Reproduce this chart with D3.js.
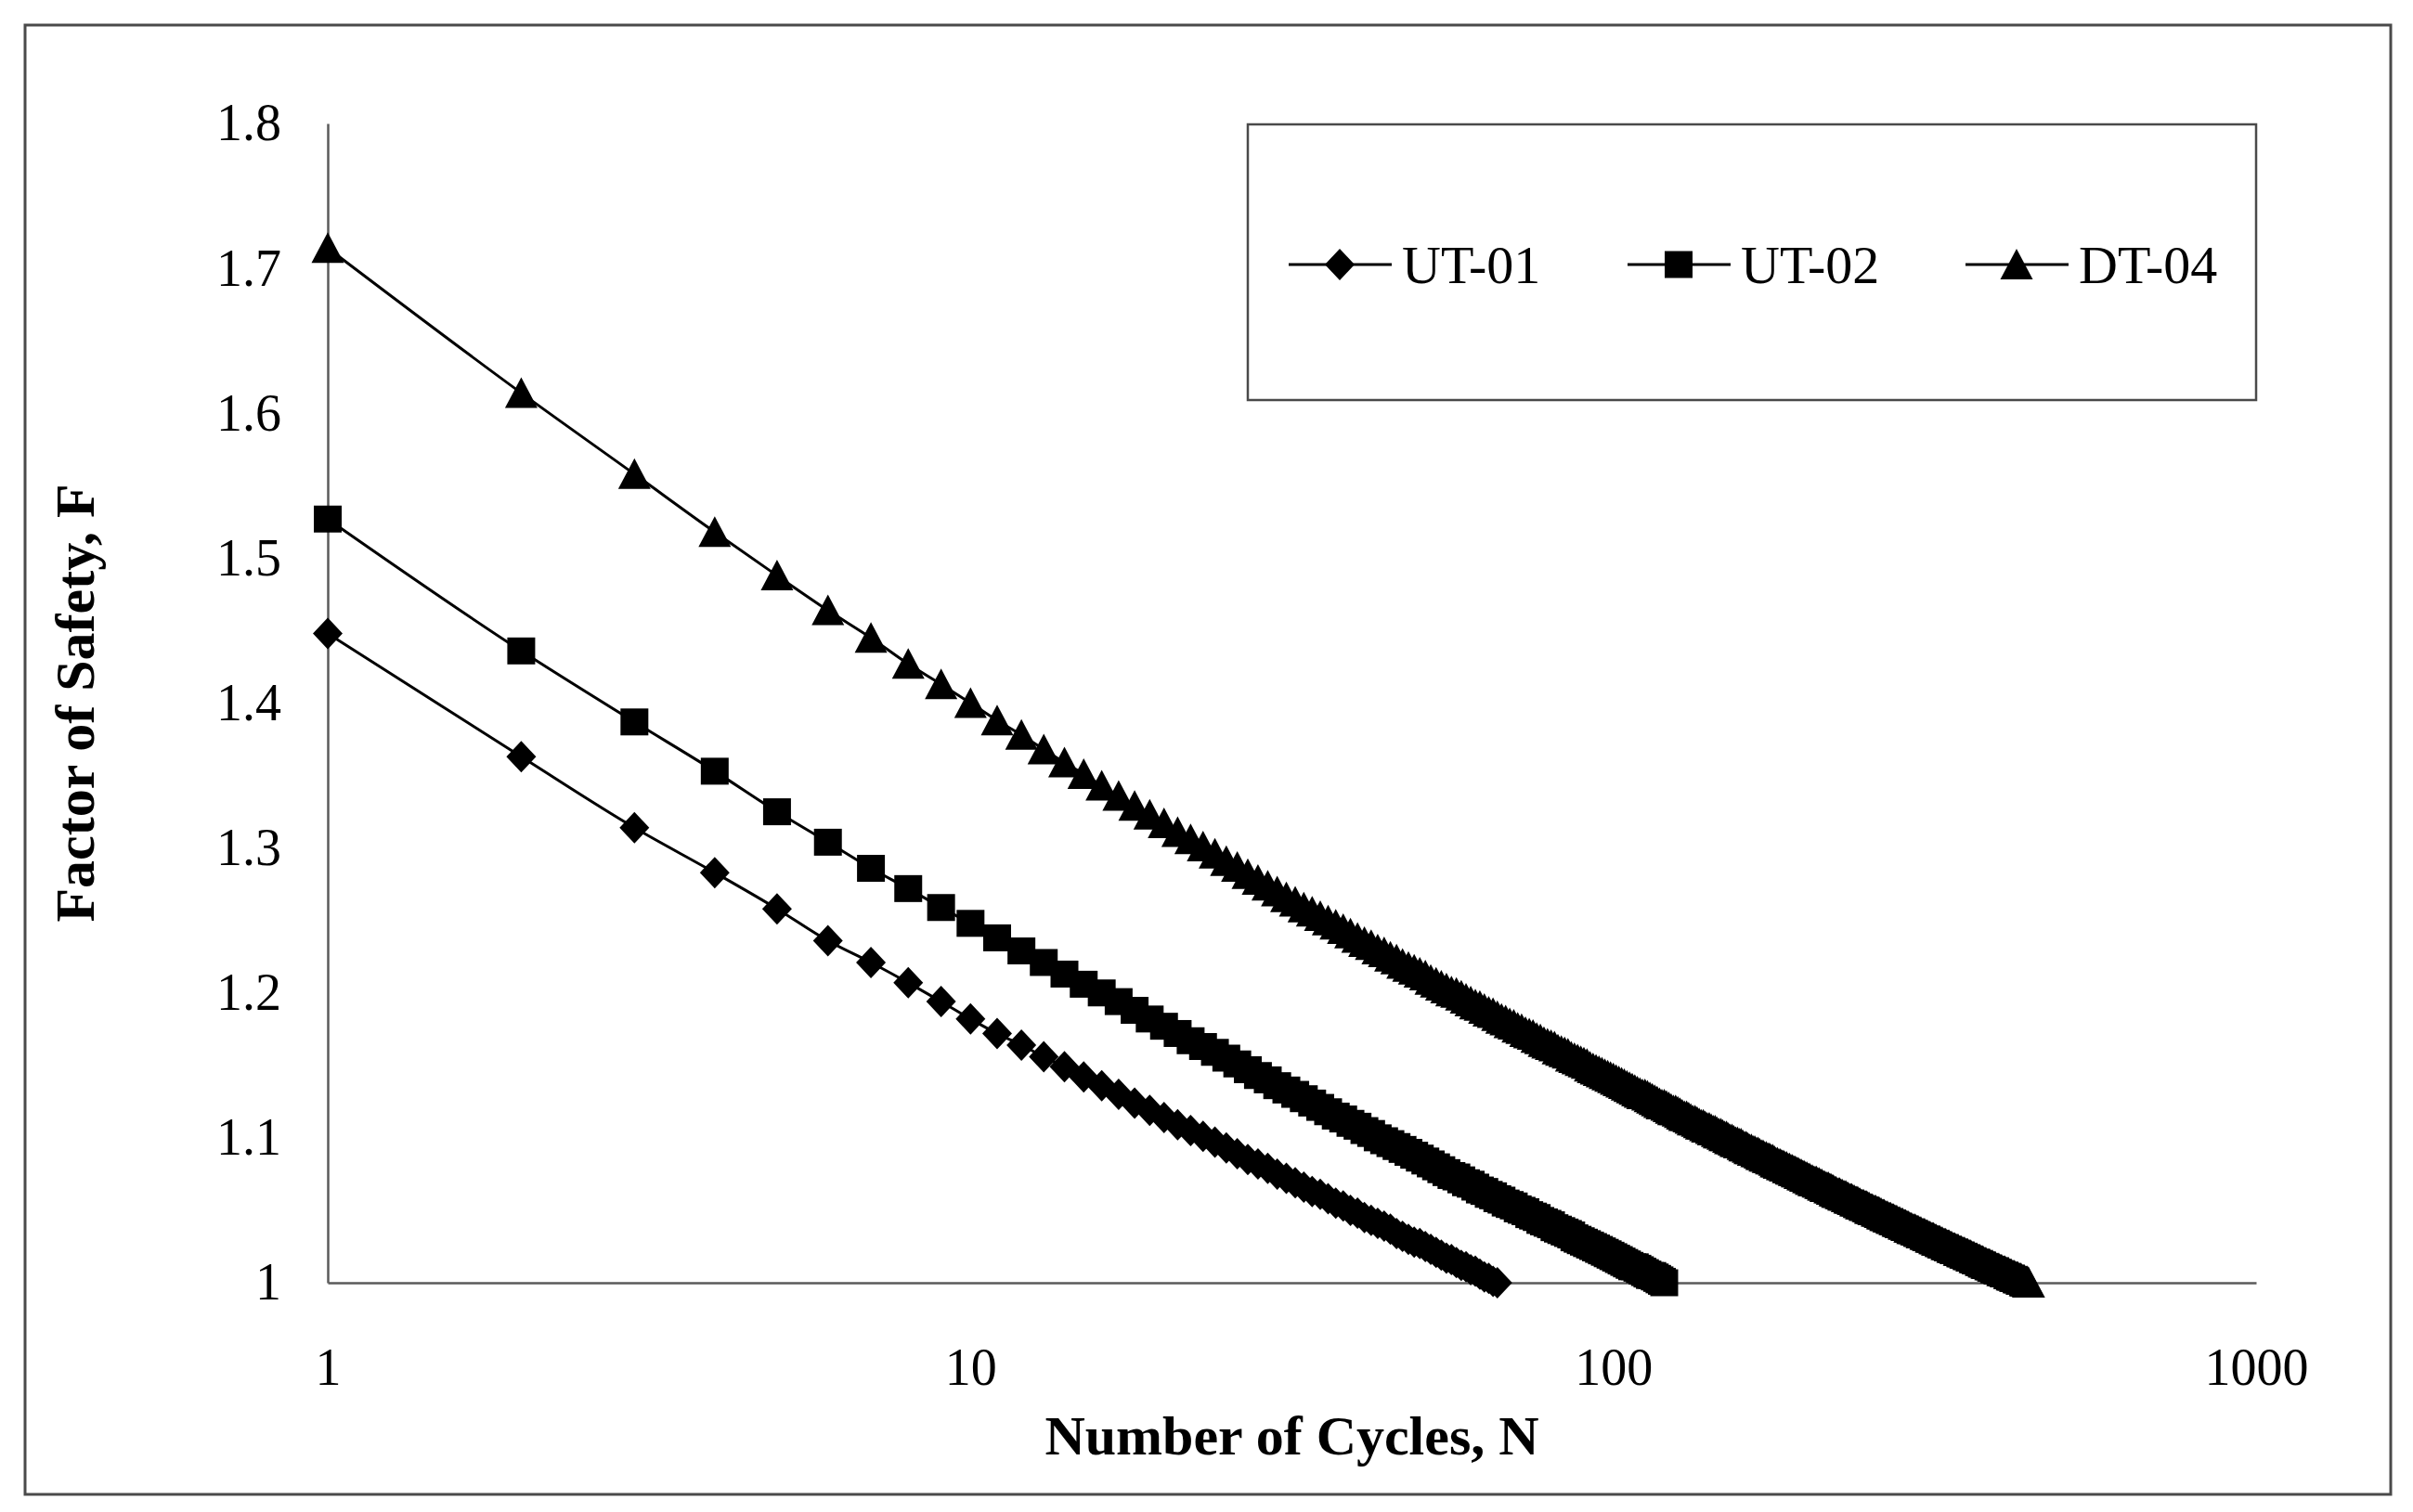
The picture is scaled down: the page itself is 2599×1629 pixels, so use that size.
<!DOCTYPE html>
<html>
<head>
<meta charset="utf-8">
<script src="https://cdn.jsdelivr.net/npm/d3@7"></script>
<style>
  body { margin: 0; background: #fff; }
</style>
</head>
<body>
<svg id="chart"></svg>
<script>
// Factor of safety per cycle, cycle number N = index + 1
const seriesNames = ["UT-01", "UT-02", "DT-04"];

const ut01 = [
  1.448, 1.363, 1.314, 1.283, 1.258, 1.236, 1.221, 1.207, 1.194, 1.182,
  1.172, 1.164, 1.156, 1.149, 1.142, 1.136, 1.130, 1.124, 1.119, 1.114,
  1.109, 1.105, 1.101, 1.097, 1.093, 1.089, 1.085, 1.082, 1.079, 1.075,
  1.072, 1.069, 1.066, 1.063, 1.061, 1.058, 1.055, 1.053, 1.050, 1.048,
  1.045, 1.043, 1.041, 1.039, 1.037, 1.034, 1.032, 1.030, 1.028, 1.027,
  1.025, 1.023, 1.021, 1.019, 1.017, 1.016, 1.014, 1.012, 1.011, 1.009,
  1.008, 1.006, 1.004, 1.003, 1.001, 1.000
];

const ut02 = [
  1.527, 1.436, 1.387, 1.353, 1.325, 1.304, 1.286, 1.272, 1.259, 1.248,
  1.238, 1.229, 1.221, 1.213, 1.206, 1.200, 1.194, 1.188, 1.182, 1.177,
  1.172, 1.167, 1.163, 1.159, 1.155, 1.151, 1.147, 1.143, 1.140, 1.136,
  1.133, 1.130, 1.127, 1.124, 1.121, 1.118, 1.115, 1.113, 1.110, 1.108,
  1.105, 1.103, 1.100, 1.098, 1.096, 1.094, 1.092, 1.090, 1.088, 1.086,
  1.084, 1.082, 1.080, 1.078, 1.076, 1.074, 1.073, 1.071, 1.069, 1.068,
  1.066, 1.064, 1.063, 1.061, 1.060, 1.058, 1.057, 1.055, 1.054, 1.053,
  1.051, 1.050, 1.049, 1.047, 1.046, 1.045, 1.043, 1.042, 1.041, 1.040,
  1.038, 1.037, 1.036, 1.035, 1.034, 1.033, 1.031, 1.030, 1.029, 1.028,
  1.027, 1.026, 1.025, 1.024, 1.023, 1.022, 1.021, 1.020, 1.019, 1.018,
  1.017, 1.016, 1.015, 1.014, 1.013, 1.012, 1.011, 1.011, 1.010, 1.009,
  1.008, 1.007, 1.006, 1.005, 1.005, 1.004, 1.003, 1.002, 1.001, 1.000
];

const dt04 = [
  1.714, 1.614, 1.558, 1.518, 1.488, 1.464, 1.445, 1.427, 1.413, 1.400,
  1.388, 1.378, 1.368, 1.359, 1.351, 1.343, 1.336, 1.329, 1.323, 1.317,
  1.311, 1.306, 1.301, 1.296, 1.291, 1.287, 1.282, 1.278, 1.274, 1.270,
  1.266, 1.263, 1.259, 1.256, 1.253, 1.250, 1.247, 1.244, 1.241, 1.238,
  1.235, 1.233, 1.230, 1.228, 1.225, 1.223, 1.220, 1.218, 1.216, 1.214,
  1.212, 1.209, 1.207, 1.205, 1.203, 1.201, 1.200, 1.198, 1.196, 1.194,
  1.192, 1.191, 1.189, 1.187, 1.186, 1.184, 1.182, 1.181, 1.179, 1.178,
  1.176, 1.175, 1.173, 1.172, 1.171, 1.169, 1.168, 1.166, 1.165, 1.164,
  1.163, 1.161, 1.160, 1.159, 1.158, 1.156, 1.155, 1.154, 1.153, 1.152,
  1.151, 1.149, 1.148, 1.147, 1.146, 1.145, 1.144, 1.143, 1.142, 1.141,
  1.140, 1.139, 1.138, 1.137, 1.136, 1.135, 1.134, 1.133, 1.132, 1.131,
  1.130, 1.130, 1.129, 1.128, 1.127, 1.126, 1.125, 1.124, 1.123, 1.123,
  1.122, 1.121, 1.120, 1.119, 1.119, 1.118, 1.117, 1.116, 1.115, 1.115,
  1.114, 1.113, 1.112, 1.112, 1.111, 1.110, 1.109, 1.109, 1.108, 1.107,
  1.107, 1.106, 1.105, 1.105, 1.104, 1.103, 1.103, 1.102, 1.101, 1.101,
  1.100, 1.099, 1.099, 1.098, 1.097, 1.097, 1.096, 1.096, 1.095, 1.094,
  1.094, 1.093, 1.092, 1.092, 1.091, 1.091, 1.090, 1.090, 1.089, 1.088,
  1.088, 1.087, 1.087, 1.086, 1.086, 1.085, 1.085, 1.084, 1.083, 1.083,
  1.082, 1.082, 1.081, 1.081, 1.080, 1.080, 1.079, 1.079, 1.078, 1.078,
  1.077, 1.077, 1.076, 1.076, 1.075, 1.075, 1.074, 1.074, 1.073, 1.073,
  1.072, 1.072, 1.071, 1.071, 1.070, 1.070, 1.070, 1.069, 1.069, 1.068,
  1.068, 1.067, 1.067, 1.066, 1.066, 1.066, 1.065, 1.065, 1.064, 1.064,
  1.063, 1.063, 1.062, 1.062, 1.062, 1.061, 1.061, 1.060, 1.060, 1.060,
  1.059, 1.059, 1.058, 1.058, 1.058, 1.057, 1.057, 1.056, 1.056, 1.056,
  1.055, 1.055, 1.054, 1.054, 1.054, 1.053, 1.053, 1.053, 1.052, 1.052,
  1.051, 1.051, 1.051, 1.050, 1.050, 1.050, 1.049, 1.049, 1.049, 1.048,
  1.048, 1.047, 1.047, 1.047, 1.046, 1.046, 1.046, 1.045, 1.045, 1.045,
  1.044, 1.044, 1.044, 1.043, 1.043, 1.043, 1.042, 1.042, 1.042, 1.041,
  1.041, 1.041, 1.040, 1.040, 1.040, 1.039, 1.039, 1.039, 1.038, 1.038,
  1.038, 1.037, 1.037, 1.037, 1.037, 1.036, 1.036, 1.036, 1.035, 1.035,
  1.035, 1.034, 1.034, 1.034, 1.034, 1.033, 1.033, 1.033, 1.032, 1.032,
  1.032, 1.031, 1.031, 1.031, 1.031, 1.030, 1.030, 1.030, 1.029, 1.029,
  1.029, 1.029, 1.028, 1.028, 1.028, 1.027, 1.027, 1.027, 1.027, 1.026,
  1.026, 1.026, 1.026, 1.025, 1.025, 1.025, 1.024, 1.024, 1.024, 1.024,
  1.023, 1.023, 1.023, 1.023, 1.022, 1.022, 1.022, 1.022, 1.021, 1.021,
  1.021, 1.021, 1.020, 1.020, 1.020, 1.020, 1.019, 1.019, 1.019, 1.019,
  1.018, 1.018, 1.018, 1.018, 1.017, 1.017, 1.017, 1.017, 1.016, 1.016,
  1.016, 1.016, 1.015, 1.015, 1.015, 1.015, 1.014, 1.014, 1.014, 1.014,
  1.013, 1.013, 1.013, 1.013, 1.013, 1.012, 1.012, 1.012, 1.012, 1.011,
  1.011, 1.011, 1.011, 1.010, 1.010, 1.010, 1.010, 1.010, 1.009, 1.009,
  1.009, 1.009, 1.008, 1.008, 1.008, 1.008, 1.008, 1.007, 1.007, 1.007,
  1.007, 1.007, 1.006, 1.006, 1.006, 1.006, 1.005, 1.005, 1.005, 1.005,
  1.005, 1.004, 1.004, 1.004, 1.004, 1.004, 1.003, 1.003, 1.003, 1.003,
  1.003, 1.002, 1.002, 1.002, 1.002, 1.002, 1.001, 1.001, 1.001, 1.001,
  1.001, 1.000, 1.000
];

const yTicks = [1, 1.1, 1.2, 1.3, 1.4, 1.5, 1.6, 1.7, 1.8];
const xTicks = [1, 10, 100, 1000];

const width = 2599;
const height = 1629;
const margin = { top: 133, right: 169, bottom: 247, left: 353 };
const font = "'Liberation Serif', 'Times New Roman', serif";
const axisColor = "#5a5a5a";

const svg = d3.select("#chart")
  .attr("width", width)
  .attr("height", height)
  .attr("viewBox", [0, 0, width, height])
  .style("font-family", font);

svg.append("rect")
  .attr("width", width).attr("height", height)
  .attr("fill", "#fff");

// outer frame
svg.append("rect")
  .attr("x", 27).attr("y", 27)
  .attr("width", 2548).attr("height", 1583)
  .attr("fill", "none")
  .attr("stroke", "#4a4a4a")
  .attr("stroke-width", 3);

const x = d3.scaleLog()
  .domain([1, 1000])
  .range([margin.left, width - margin.right]);

const y = d3.scaleLinear()
  .domain([1, 1.8])
  .range([height - margin.bottom, margin.top]);

const xAxis = (g) =>
  g.attr("transform", `translate(0,${y(1)})`)
    .call(d3.axisBottom(x).tickValues(xTicks).tickSize(0).tickSizeOuter(0)
      .tickPadding(70).tickFormat(d3.format("d")))
    .call((g) => g.select(".domain").attr("stroke", axisColor).attr("stroke-width", 2.5))
    .call((g) => g.selectAll("text")
      .attr("fill", "#000").style("font-size", "56px").style("font-family", font));

const yAxis = (g) =>
  g.attr("transform", `translate(${x(1)},0)`)
    .call(d3.axisLeft(y).tickValues(yTicks).tickSize(0).tickSizeOuter(0)
      .tickPadding(50).tickFormat((d) => (d === 1 ? "1" : d3.format(".1f")(d))))
    .call((g) => g.select(".domain").attr("stroke", axisColor).attr("stroke-width", 2.5))
    .call((g) => g.selectAll("text")
      .attr("fill", "#000").style("font-size", "56px").style("font-family", font));

svg.append("g").call(xAxis);
svg.append("g").call(yAxis);

// axis titles
svg.append("text")
  .attr("x", (x(1) + x(1000)) / 2)
  .attr("y", 1567)
  .attr("text-anchor", "middle")
  .attr("font-weight", "bold")
  .style("font-size", "60px")
  .text("Number of Cycles, N");

svg.append("text")
  .attr("transform", `translate(101,${(y(1) + y(1.8)) / 2}) rotate(-90)`)
  .attr("text-anchor", "middle")
  .attr("font-weight", "bold")
  .style("font-size", "60px")
  .text("Factor of Safety, F");

// marker shapes
const markers = {
  diamond: (cx, cy) => `M${cx},${cy - 17}L${cx + 16},${cy}L${cx},${cy + 17}L${cx - 16},${cy}Z`,
  square: (cx, cy) => `M${cx - 15},${cy - 14.5}h30v29h-30Z`,
  triangle: (cx, cy) => `M${cx},${cy - 17}L${cx + 17.5},${cy + 16}L${cx - 17.5},${cy + 16}Z`
};

const series = [
  { name: seriesNames[0], values: ut01, marker: "diamond" },
  { name: seriesNames[1], values: ut02, marker: "square" },
  { name: seriesNames[2], values: dt04, marker: "triangle" }
];

const line = d3.line()
  .curve(d3.curveMonotoneX)
  .x((d, i) => x(i + 1))
  .y((d) => y(d));

series.forEach((s) => {
  const g = svg.append("g");
  g.append("path")
    .datum(s.values)
    .attr("fill", "none")
    .attr("stroke", "#000")
    .attr("stroke-width", 3)
    .attr("stroke-linejoin", "round")
    .attr("d", line);
  g.selectAll("path.mk")
    .data(s.values)
    .join("path")
    .attr("class", "mk")
    .attr("fill", "#000")
    .attr("d", (d, i) => markers[s.marker](x(i + 1), y(d)));
});

// legend
const legend = svg.append("g");
legend.append("rect")
  .attr("x", 1344).attr("y", 134)
  .attr("width", 1086).attr("height", 297)
  .attr("fill", "#fff")
  .attr("stroke", "#4a4a4a")
  .attr("stroke-width", 2.5);

const legendX = [1388, 1753, 2117];
const legendY = 285;
series.forEach((s, i) => {
  const lx = legendX[i];
  legend.append("line")
    .attr("x1", lx).attr("x2", lx + 111)
    .attr("y1", legendY).attr("y2", legendY)
    .attr("stroke", "#000").attr("stroke-width", 3);
  legend.append("path")
    .attr("fill", "#000")
    .attr("d", markers[s.marker](lx + 55, legendY));
  legend.append("text")
    .attr("x", lx + 122)
    .attr("y", legendY)
    .attr("dy", "0.35em")
    .style("font-size", "58px")
    .text(s.name);
});
</script>
</body>
</html>
